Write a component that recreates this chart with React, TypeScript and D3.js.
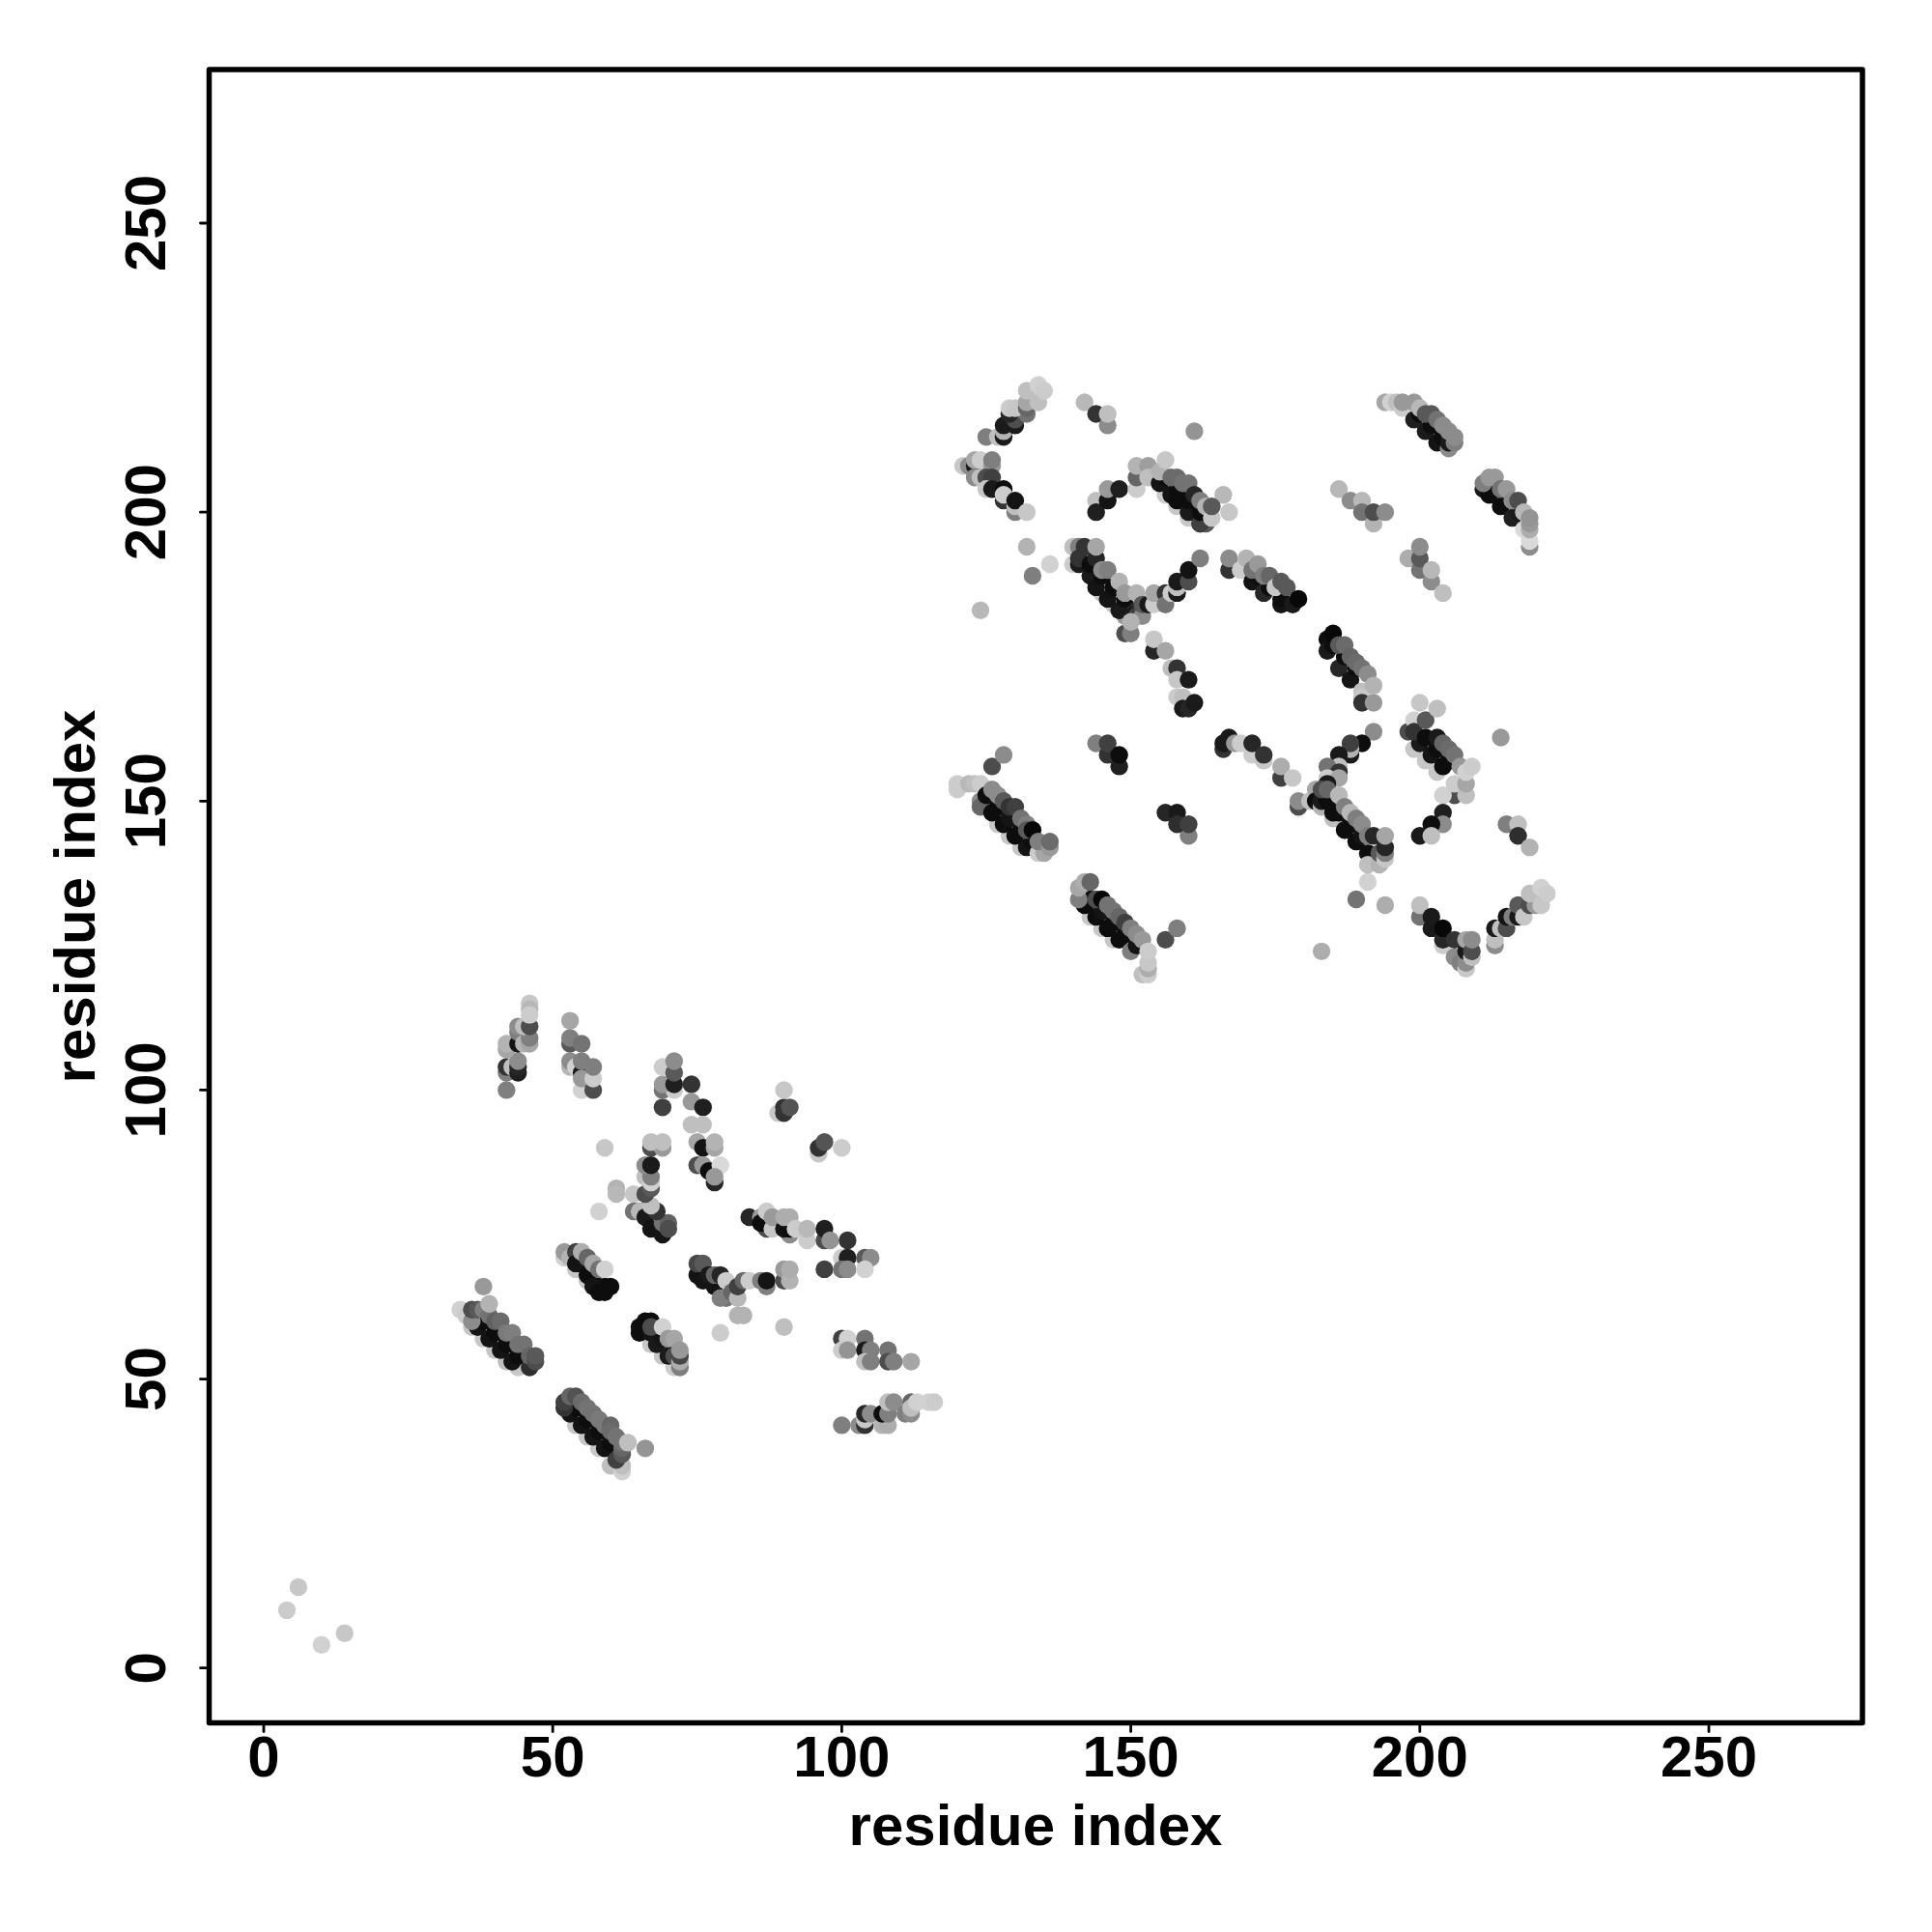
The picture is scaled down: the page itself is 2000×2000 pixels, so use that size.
import React from "react";
import * as d3 from "d3";

type P = [number, number, number];

const tickValues = [0, 50, 100, 150, 200, 250];
const axisTitle = "residue index";

// [x residue, y residue, grey percent]
const origin: P[] = [[4,10,80],[6,14,78],[10,4,82],[14,6,78]];
const strandA: P[] = [[34,62,82],[35,61,80],[36,59,78],[38,57,78],[40,55,78],[42,53,75],[44,52,78],
[37,59,8],[39,57,8],[41,55,8],[43,53,8],[38,60,5],[40,58,5],[42,56,5],[44,54,5],[46,52,18],
[36,60,55],[36,62,30],[37,62,35],[38,62,50],[38,66,60],[39,61,45],[39,63,70],[40,60,38],[41,60,42],[42,58,48],[43,58,50],[44,56,45],[45,56,45],[46,54,40],[47,53,30],[47,54,35]];
const strandB: P[] = [[54,42,78],[56,40,78],[58,38,78],[60,35,75],[62,34,82],[62,35,75],
[53,44,8],[55,42,8],[57,40,8],[59,38,8],[61,36,25],[54,45,5],[56,43,5],[58,41,5],[60,39,5],
[52,45,20],[52,46,25],[53,47,40],[54,47,32],[55,46,42],[56,45,45],[57,44,45],[58,43,48],[59,42,48],[60,42,40],[60,41,42],[61,40,45],[62,37,35],[62,38,40],[62,39,45],[63,39,75],[66,38,58]];
const strandC: P[] = [[52,71,82],[52,72,60],[53,71,70],[54,69,78],[56,67,78],[58,65,75],
[54,72,25],[55,70,10],[57,68,5],[59,66,5],[54,70,8],[56,68,5],[57,66,8],[58,65,5],[60,66,5],[59,65,5],
[55,72,68],[56,71,40],[57,70,65],[58,69,45],[59,69,82]];
const strandD: P[] = [[67,56,78],[69,54,78],[71,52,80],[72,52,50],[65,58,5],[65,59,5],[66,60,5],[67,58,8],[68,56,10],[69,57,8],[70,54,10],[71,55,8],[71,54,30],[67,60,5],[67,59,30],[69,59,82],[70,57,60],[71,57,65],[72,53,68],[72,54,28],[72,55,60]];
const topLeftA: P[] = [[42,100,50],[42,103,50],[42,104,20],[43,104,75],[44,103,12],[44,104,15],[44,105,55],[42,107,65],[42,108,70],[44,108,8],[44,110,50],[44,111,55],[45,108,70],[46,108,65],[46,109,50],[45,111,75],[46,111,30],[46,115,78],[46,114,72],[46,113,80]];
const topLeftB: P[] = [[53,112,65],[53,108,35],[53,109,50],[55,108,45],[53,104,70],[53,105,55],[54,104,82],[55,103,10],[55,105,50],[55,100,82],[55,102,60],[57,100,30],[57,102,80],[57,104,50]];
const blockE: P[] = [[59,90,78],[61,83,70],[61,82,72],[64,82,78],[58,79,82],[64,79,45],[65,79,15],[65,79,72],[66,78,10],[67,76,8],[69,75,8],[69,77,45],[70,77,38],[70,76,30],[68,79,20],[67,80,75],[66,82,30],[67,83,35],[66,85,75],[67,84,82],[67,85,50],[66,87,55],[67,87,10],[67,90,30],[69,90,60],[67,91,75],[69,91,75]];
const blockF: P[] = [[69,97,25],[69,100,45],[71,100,80],[69,101,60],[71,101,12],[74,101,20],[69,104,80],[71,103,35],[71,105,55],[74,98,60],[76,97,12],[74,94,75],[76,94,75],[75,91,65],[76,90,8],[78,90,65],[78,91,70],[75,87,30],[76,87,60],[77,86,5],[79,87,85],[78,84,15],[78,85,60]];
const blockG: P[] = [[89,96,78],[90,96,20],[90,97,20],[91,97,33],[90,100,78],[96,89,78],[96,90,20],[97,91,33],[100,90,80]];
const blockH: P[] = [[84,78,15],[86,78,60],[87,76,30],[86,77,5],[88,76,78],[87,79,80],[88,78,60],[91,75,55],[90,76,8],[91,76,5],[90,78,68],[91,78,68],[92,76,80],[94,74,80],[94,76,72],[97,74,30],[97,76,12],[98,74,58],[101,74,20],[100,71,80],[101,71,12],[104,71,35],[105,71,55],[97,69,25],[100,69,45],[101,69,55],[104,69,82]];
const blockI: P[] = [[75,68,8],[76,67,8],[75,70,28],[76,70,35],[77,68,10],[78,66,8],[78,68,40],[79,68,15],[80,64,45],[79,64,50],[80,67,80],[81,65,40],[82,64,72],[82,66,25],[83,67,40],[84,67,80],[86,67,50],[87,66,50],[87,67,8],[90,67,30],[90,69,60],[91,67,70],[91,69,68],[82,61,70],[83,61,70],[90,59,75],[79,58,80]];
const blockJ: P[] = [[100,57,25],[101,57,82],[100,55,80],[101,55,58],[104,57,45],[104,55,10],[105,55,50],[104,53,75],[105,53,50],[108,55,45],[108,53,30],[109,53,50],[112,53,65]];
const blockK: P[] = [[100,42,50],[103,42,55],[104,42,20],[104,43,78],[104,44,15],[105,44,55],[107,42,70],[108,42,68],[107,44,5],[108,44,50],[108,46,75],[109,46,55],[111,44,50],[112,44,55],[112,46,40],[112,45,75],[113,46,82],[115,46,82],[116,46,80]];
const branchL: P[] = [[125,213,50],[127,213,75],[128,213,10],[128,214,70],[128,215,10],[130,215,10],[130,216,30],[129,217,15],[132,217,45],[129,218,80],[130,218,78],[132,218,40],[132,219,65],[134,219,75],[132,221,75],[134,222,82],[135,221,80]];
const branchM: P[] = [[142,219,72],[144,217,20],[146,215,55],[146,217,75],[161,214,58]];
const branchN: P[] = [[121,208,78],[122,208,55],[123,208,10],[123,209,65],[124,209,80],[123,206,55],[124,206,75],[126,208,60],[126,209,50],[125,206,30],[126,206,25],[125,204,78],[126,204,10],[128,204,5],[128,202,20],[128,203,80],[130,200,50],[130,201,75],[130,202,8],[132,200,78]];
const looseO: P[] = [[132,194,70],[136,191,82],[133,189,50],[124,183,72],[183,124,68],[214,161,60],[191,136,82],[189,133,45],[194,132,68],[215,146,50],[217,146,75],[217,144,18],[219,142,70]];
const arcP: P[] = [[144,202,75],[144,200,12],[146,202,8],[146,204,60],[148,204,12]];
const strandQ: P[] = [[151,204,80],[151,206,40],[151,208,70],[153,208,62],[153,206,75],[156,203,80],[158,201,78],[160,199,78],[162,198,35],[163,198,35],
[155,205,8],[157,203,8],[158,202,5],[160,200,10],[162,198,25],[156,206,5],[158,204,5],[160,202,5],[162,200,5],
[155,207,70],[156,209,78],[157,206,42],[158,206,42],[159,205,45],[160,205,45],[161,203,15],[162,202,50],[163,201,70],[166,203,72],[167,200,78],[164,199,78],[164,201,35]];
const strandR: P[] = [[140,191,80],[140,194,75],[141,194,50],[141,191,10],[141,192,20],[142,194,20],[145,186,78],[147,184,78],[149,182,60],
[143,189,10],[144,187,8],[146,185,8],[148,183,10],[143,191,5],[145,189,5],[147,187,5],[149,185,5],[151,183,15],
[144,192,15],[144,194,65],[145,190,55],[146,190,50],[148,188,70],[149,186,60],[151,186,70],[150,182,10],[151,182,25],[152,182,55],[152,184,35],[153,184,10],[154,184,80],[149,179,30],[150,179,50],[150,181,70],[154,186,65],[156,186,20],[156,184,45],[157,186,80],[158,186,10],[158,187,75],[158,188,10],[160,188,30],[160,190,8],[162,192,50]];
const strandS: P[] = [[154,176,15],[154,178,78],[156,176,65],[157,173,75],[158,173,20],[158,171,78],[160,171,10],[158,168,80],[159,168,75],[159,166,10],[160,166,15],[161,167,10]];
const strandT: P[] = [[194,219,65],[195,219,82],[196,219,75],[197,218,80],[197,219,60],[199,219,60],[199,216,12],[201,214,10],[203,212,8],[205,211,55],[200,217,5],[202,215,5],[204,213,5],[205,212,10],[200,218,72],[201,217,35],[202,217,35],[203,216,45],[204,215,55],[205,214,55],[206,212,50],[206,213,55]];
const strandU: P[] = [[211,204,10],[212,203,5],[214,201,5],[216,199,12],[213,204,5],[215,202,5],[217,200,10],[211,205,50],[212,206,60],[213,206,60],[214,204,45],[215,204,60],[216,202,55],[217,202,30],[218,197,85],[218,200,72],[219,194,55],[219,195,85],[219,197,68],[219,198,60],[219,199,58]];
const looseV: P[] = [[186,204,72],[188,202,55],[190,202,72],[190,200,45],[192,198,70],[192,200,30],[194,200,55],[198,192,68],[200,190,45],[200,192,35],[200,194,55],[202,188,55],[202,190,72],[204,186,75]];
const strandW: P[] = [[167,190,20],[167,192,55],[169,190,80],[171,188,8],[173,186,15],[176,184,8],[172,189,5],[174,187,5],[176,185,5],[178,184,10],[170,192,70],[171,190,45],[172,191,60],[173,189,50],[174,189,40],[175,187,78],[176,188,35],[177,187,35],[179,185,3]];
const strandX: P[] = [[184,178,5],[184,176,10],[186,173,15],[188,171,8],[185,177,5],[187,175,5],[189,173,5],[185,179,3],[186,177,35],[187,177,42],[188,175,40],[189,174,42],[190,173,45],[190,169,75],[190,168,78],[190,167,20],[191,172,55],[192,170,70],[192,167,60]];
const arcY: P[] = [[192,162,55],[190,160,5],[188,158,10],[188,159,70],[188,160,25],[186,158,10],[186,156,75],[184,156,45],[186,155,20],[184,154,80],[186,154,65],[184,153,10]];
const strandZ: P[] = [[179,149,30],[179,150,55],[181,150,75],[182,152,65],[182,150,5],[183,149,70],[185,147,75],
[183,150,10],[185,148,5],[187,145,5],[189,143,5],[191,141,5],[184,150,5],[186,148,5],[188,146,5],[190,144,8],
[183,152,30],[184,152,40],[186,151,72],[187,149,50],[188,148,72],[189,147,50],[190,146,55],[191,139,75],[193,139,70],[191,144,50],[192,144,15],[193,141,35],[194,140,78],[194,141,50],[194,142,15],[194,144,65]];
const strandAA: P[] = [[198,162,30],[199,164,82],[199,159,78],[201,157,78],[203,155,78],[200,160,10],[202,158,8],[204,156,5],[199,162,20],[201,161,5],[203,159,5],[205,157,5],[201,164,35],[200,167,78],[203,166,75],[203,161,10],[204,160,40],[205,159,42],[206,158,45],[206,151,30],[204,151,82],[206,153,80],[208,151,75],[208,153,65],[207,156,60],[208,155,82],[209,156,80]];
const arcAB: P[] = [[204,148,12],[204,146,55],[202,146,5],[200,144,10],[202,144,75]];
const vBottom: P[] = [[200,130,45],[200,132,75],[202,128,10],[202,130,10],[204,125,80],[204,126,15],[204,128,3],[206,123,55],[206,126,20],[207,122,50],[208,121,78],[208,122,55],[208,124,10],[208,126,65],[209,123,75],[209,124,30],[209,126,55],
[213,125,55],[213,126,75],[213,128,10],[214,128,75],[215,128,30],[215,130,8],[216,130,50],[217,130,10],[217,132,35],[218,130,78],[219,132,30],[220,132,60],[219,134,75],[221,132,78],[221,135,82],[222,134,80]];
const dotsAA: P[] = [[144,160,50],[146,158,20],[146,160,25],[148,156,12],[148,158,5],[156,148,15],[158,148,10],[160,144,50],[158,146,18],[160,146,25],[126,156,30],[128,158,55]];
const strandAC: P[] = [[120,153,80],[120,152,80],[122,153,72],[123,153,75],[124,153,80],[124,150,55],[124,149,40],[127,146,78],[129,144,78],[131,142,78],
[126,148,5],[128,146,5],[130,144,5],[132,142,8],[125,151,5],[127,149,5],[129,147,8],[131,145,5],[133,143,5],
[126,152,55],[127,151,55],[128,150,35],[129,149,20],[130,149,25],[131,147,45],[132,146,50],[132,145,35],[133,145,3],[134,141,80],[135,141,65],[134,143,50],[136,142,60],[136,143,42]];
const strandAD: P[] = [[143,130,78],[145,128,78],[147,126,78],[142,132,5],[144,130,5],[146,128,5],[148,126,5],[150,124,50],[143,133,5],[145,131,8],[147,129,5],[149,127,5],[151,125,8],[141,133,50],[141,135,65],[142,136,68],[143,136,40],[144,133,30],[145,133,3],[146,132,45],[147,131,45],[148,130,40],[149,129,25],[150,128,50],[152,120,75],[153,120,80],[153,121,68],[153,122,78],[151,127,55],[152,126,60],[153,124,80],[156,126,30],[158,128,50]];
const strandAE: P[] = [[166,159,20],[166,160,10],[167,161,10],[168,160,60],[169,160,80],[171,158,80],[171,160,15],[173,157,78],[173,158,20],[176,154,25],[176,156,68],[178,154,78]];

const allClusters = [origin, strandA, strandB, strandC, strandD, topLeftA, topLeftB, blockE, blockF, blockG, blockH, blockI, blockJ, blockK, branchL, branchM, branchN, looseO, arcP, strandQ, strandR, strandS, strandT, strandU, looseV, strandW, strandX, arcY, strandZ, strandAA, arcAB, vBottom, dotsAA, strandAC, strandAD, strandAE];

const x = d3.scaleLinear().domain([0, 250]).range([273, 1769]);
const y = d3.scaleLinear().domain([0, 250]).range([1726.7, 231]);
const box = { left: 216.5, right: 1928, top: 72, bottom: 1783.5 };
const font = "'Liberation Sans', Arial, sans-serif";
const grey = (p: number) => { const v = Math.round(p * 2.55); return `rgb(${v},${v},${v})`; };

export default function App() {
  return (
    <svg width={2000} height={2000} style={{ position: "absolute", left: 0, top: 0, background: "#fff" }}>
      {allClusters.map((c, i) => (
        <g key={i}>
          {c.map(([a, b, g], j) => (
            <circle key={j} cx={x(a)} cy={y(b)} r={9.2} fill={grey(g)} />
          ))}
        </g>
      ))}
      <rect x={box.left} y={box.top} width={box.right - box.left} height={box.bottom - box.top} fill="none" stroke="#000" strokeWidth={5.5} strokeLinejoin="round" />
      {tickValues.map((t) => (
        <g key={t}>
          <line x1={x(t)} x2={x(t)} y1={box.bottom} y2={box.bottom + 9} stroke="#000" strokeWidth={2.8} strokeLinecap="round" />
          <text x={x(t)} y={1839} textAnchor="middle" fontFamily={font} fontWeight="bold" fontSize={60} fill="#000">{t}</text>
          <line y1={y(t)} y2={y(t)} x1={box.left} x2={box.left - 9} stroke="#000" strokeWidth={2.8} strokeLinecap="round" />
          <text transform={`translate(171,${y(t)}) rotate(-90)`} textAnchor="middle" fontFamily={font} fontWeight="bold" fontSize={60} fill="#000">{t}</text>
        </g>
      ))}
      <text x={1072} y={1910} textAnchor="middle" fontFamily={font} fontWeight="bold" fontSize={60} fill="#000">{axisTitle}</text>
      <text transform="translate(98,928) rotate(-90)" textAnchor="middle" fontFamily={font} fontWeight="bold" fontSize={60} fill="#000">{axisTitle}</text>
    </svg>
  );
}
